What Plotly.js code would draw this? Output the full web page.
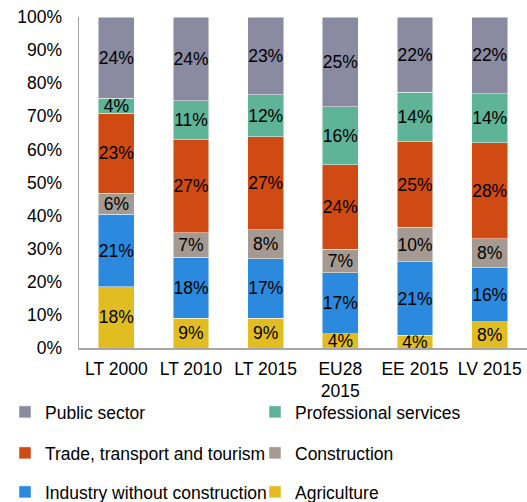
<!DOCTYPE html>
<html>
<head>
<meta charset="utf-8">
<script src="https://cdn.plot.ly/plotly-3.0.1.min.js"></script>
<style>html,body{margin:0;padding:0;background:#fff;}#chart{width:527px;height:502px;}</style>
</head>
<body>
<div id="chart"></div>
<script>
const categories = ['LT 2000', 'LT 2010', 'LT 2015', 'EU28<br>2015', 'EE 2015', 'LV 2015'];
const agriculture = [17.7, 8.7, 8.7, 4.0, 3.7, 7.6];
const industry = [21.0, 17.6, 17.2, 17.2, 21.3, 15.7];
const construction = [6.2, 7.1, 8.4, 6.6, 10.0, 8.4];
const trade = [23.1, 27.1, 27.0, 23.7, 24.8, 27.8];
const professional = [4.3, 11.3, 12.2, 16.3, 14.4, 14.2];
const publicSector = [23.6, 24.3, 22.6, 25.2, 21.8, 22.3];
const yTickVals = [0, 10, 20, 30, 40, 50, 60, 70, 80, 90, 100];
const yTickText = ['0%', '10%', '20%', '30%', '40%', '50%', '60%', '70%', '80%', '90%', '100%'];

const FONT = 'Liberation Sans, Arial, sans-serif';
const FS = 17.5;
// legend slot: [column, row]
const series = [
  {name: 'Agriculture', y: agriculture, color: '#E2BD22', slot: [1, 2]},
  {name: 'Industry without construction', y: industry, color: '#2B89DE', slot: [0, 2]},
  {name: 'Construction', y: construction, color: '#A59A91', slot: [1, 1]},
  {name: 'Trade, transport and tourism', y: trade, color: '#D04A14', slot: [0, 1]},
  {name: 'Professional services', y: professional, color: '#5FB396', slot: [1, 0]},
  {name: 'Public sector', y: publicSector, color: '#8A8AA0', slot: [0, 0]}
];

const colX = [5, 255];
const rowYpx = [412, 453, 492];

const layout = {
  width: 527,
  height: 502,
  margin: {l: 79, r: 0, t: 17, b: 154, autoexpand: false},
  paper_bgcolor: '#fff',
  plot_bgcolor: '#fff',
  barmode: 'stack',
  barnorm: 'percent',
  bargap: 0.52,
  font: {family: FONT, size: FS, color: '#000'},
  xaxis: {
    showgrid: false,
    showline: true,
    linecolor: '#A6A6A6',
    linewidth: 1.5,
    ticks: '',
    tickfont: {family: FONT, size: FS, color: '#000'},
    ticklabelstandoff: 4,
    automargin: false,
    fixedrange: true
  },
  yaxis: {
    range: [0, 100],
    tickvals: yTickVals,
    ticktext: yTickText,
    showgrid: false,
    zeroline: false,
    showline: true,
    linecolor: '#A6A6A6',
    linewidth: 1.5,
    ticks: '',
    ticklabelstandoff: 12,
    tickfont: {family: FONT, size: FS, color: '#000'},
    automargin: false,
    fixedrange: true
  },
  showlegend: true
};

const traces = series.map((s, i) => {
  const id = i === 0 ? 'legend' : 'legend' + (i + 1);
  layout[id] = {
    orientation: 'h',
    font: {family: FONT, size: FS, color: '#000'},
    xref: 'container',
    yref: 'container',
    xanchor: 'left',
    yanchor: 'middle',
    x: colX[s.slot[0]] / 527,
    y: 1 - rowYpx[s.slot[1]] / 502,
    bgcolor: 'rgba(0,0,0,0)',
    borderwidth: 0
  };
  return {
    type: 'bar',
    name: s.name,
    x: categories,
    y: s.y,
    legend: id,
    marker: {color: s.color, line: {color: 'rgba(255,255,255,0.6)', width: 0.8}},
    text: s.y.map(v => Math.round(v) + '%'),
    textposition: 'inside',
    insidetextanchor: 'middle',
    textangle: 0,
    constraintext: 'none',
    textfont: {family: FONT, size: FS, color: '#000'},
    hoverinfo: 'name+y'
  };
});

Plotly.newPlot('chart', traces, layout, {displayModeBar: false, staticPlot: true});
</script>
</body>
</html>
